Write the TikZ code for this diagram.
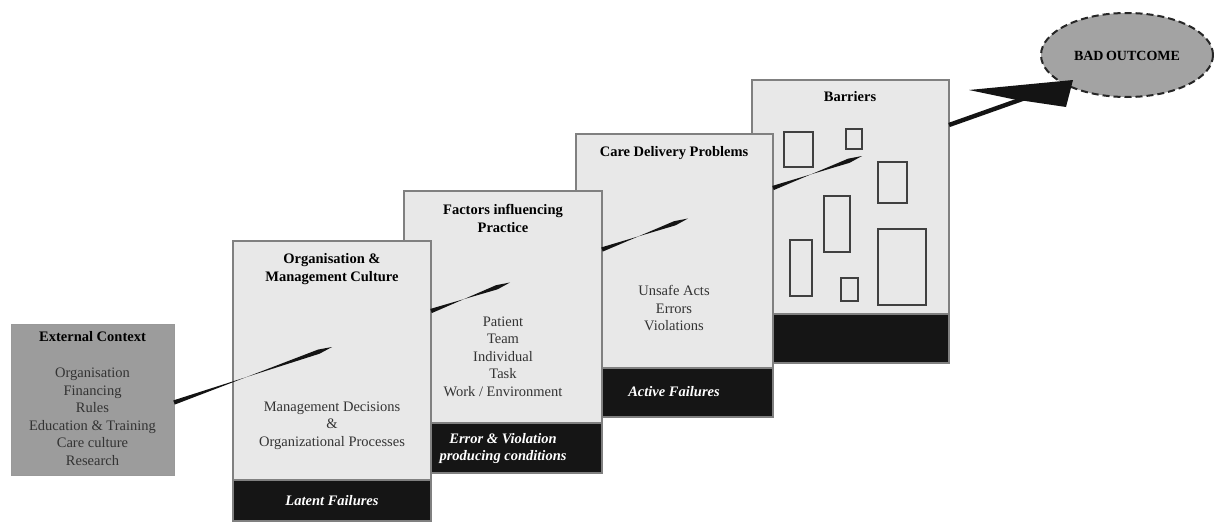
\documentclass[tikz,border=0pt]{standalone}
\usepackage{fontspec}
\setmainfont{Liberation Serif}
\usetikzlibrary{calc,shapes.geometric}
\definecolor{boxgray}{HTML}{E8E8E8}
\definecolor{ctxgray}{HTML}{9C9C9C}
\definecolor{bandblack}{HTML}{151515}
\definecolor{edgegray}{HTML}{808080}
\definecolor{ellgray}{HTML}{A3A3A3}
\definecolor{bodytext}{HTML}{333333}
\begin{document}
\begin{tikzpicture}[x=1pt,y=-1pt,
  txt/.style={font=\fontsize{14.5}{17.5}\selectfont, align=center, inner sep=0pt},
  ttl/.style={txt, font=\fontsize{14.5}{18}\selectfont\bfseries, text=black},
  body/.style={txt, text=bodytext},
  bandtxt/.style={txt, font=\fontsize{14.5}{17.5}\selectfont\bfseries\itshape, text=white},
  panel/.style={draw=edgegray, line width=1.2pt, fill=boxgray, anchor=north west, inner sep=0pt, outer sep=0pt},
  band/.style={draw=edgegray, line width=1.2pt, fill=bandblack, anchor=north west, inner sep=0pt, outer sep=0pt},
  ctxbox/.style={draw=black!40, line width=1pt, fill=ctxgray, anchor=north west, inner sep=0pt, outer sep=0pt},
  hole/.style={draw=black!75, line width=1.8pt, anchor=north west, inner sep=0pt, outer sep=0pt},
  wedge/.style={fill=black!92}
]
\useasboundingbox (0,0) rectangle (1214,522);
\fill[white] (0,0) rectangle (1214,522);

% ---- Barriers panel ----
\node[panel, minimum width=197pt, minimum height=234pt] (p4) at (752,80) {};
\node[band, minimum width=197pt, minimum height=49pt] (f4) at (752,314) {};
\node[ttl] (t4) at (850,97) {Barriers};
\node[hole, minimum width=29pt, minimum height=35pt] (h1) at (784,132) {};
\node[hole, minimum width=16pt, minimum height=20pt] (h2) at (846,129) {};
\node[hole, minimum width=29pt, minimum height=41pt] (h3) at (878,162) {};
\node[hole, minimum width=26pt, minimum height=56pt] (h4) at (824,196) {};
\node[hole, minimum width=22pt, minimum height=56pt] (h5) at (790,240) {};
\node[hole, minimum width=17pt, minimum height=23pt] (h6) at (841,278) {};
\node[hole, minimum width=48pt, minimum height=76pt] (h7) at (878,229) {};

% ---- Care delivery panel ----
\node[panel, minimum width=197pt, minimum height=234pt] (p3) at (576,134) {};
\node[band, minimum width=197pt, minimum height=49pt] (f3) at (576,368) {};
\node[ttl] (t3) at (674,153) {Care Delivery Problems};
\node[body] (c3) at (674,308) {Unsafe Acts\\Errors\\Violations};
\node[bandtxt] (l3) at (674,392) {Active Failures};

% ---- Factors panel ----
\node[panel, minimum width=198pt, minimum height=232pt] (p2) at (404,191) {};
\node[band, minimum width=198pt, minimum height=50pt] (f2) at (404,423) {};
\node[ttl] (t2) at (503,218.5) {Factors influencing\\Practice};
\node[body] (c2) at (503,356.5) {Patient\\Team\\Individual\\Task\\Work / Environment};
\node[bandtxt] (l2) at (503,448.5) {Error \& Violation\\producing conditions};

% ---- Organisation panel ----
\node[panel, minimum width=198pt, minimum height=239pt] (p1) at (233,241) {};
\node[band, minimum width=198pt, minimum height=41pt] (f1) at (233,480) {};
\node[ttl] (t1) at (332,269) {Organisation \&\\Management Culture};
\node[body] (c1) at (332,425.5) {Management Decisions\\\&\\Organizational Processes};
\node[bandtxt] (l1) at (332,501) {Latent Failures};

% ---- External context ----
\node[ctxbox, minimum width=163pt, minimum height=151pt] (ctx) at (11,324) {};
\node[ttl] (t0) at (92.5,337) {External Context};
\node[body] (c0) at (92.5,417) {Organisation\\Financing\\Rules\\Education \& Training\\Care culture\\Research};

% ---- Bad outcome ----
\node[ellipse, fill=ellgray, draw=black!85, line width=2pt, dash pattern=on 7pt off 4pt,
      minimum width=172pt, minimum height=84pt, inner sep=0pt] (bad) at (1127,55) {};
\node[ttl, font=\fontsize{14}{17}\selectfont\bfseries] (tb) at (1127,56) {BAD\hspace{-1pt} OUTCOME};

% ---- trajectory (wedges) ----
\coordinate (a1) at ($(ctx.east)+(0,3)$);
\coordinate (b1) at (332,347);
\coordinate (a2) at (431,311);
\coordinate (b2) at (510,282.5);
\coordinate (a3) at (602,249.5);
\coordinate (b3) at (688,218.5);
\coordinate (a4) at (773,188);
\coordinate (b4) at (862,156);
\coordinate (a5) at (949,125);
\coordinate (n5) at (1028,97);
\coordinate (tip) at (1073,80);
\coordinate (w1) at (969,90);
\coordinate (w2) at (1066,107);
\coordinate (nt) at (1012,99);

\foreach \s/\e in {a1/b1,a2/b2,a3/b3,a4/b4}{
  \coordinate (m) at ($(\e)!14pt!(\s)$);
  \fill[wedge] ($(\s)!2.2pt!90:(\e)$) -- ($(\s)!2.2pt!-90:(\e)$) -- ($(m)!2.2pt!90:(\e)$) -- (\e) -- ($(m)!2.2pt!-90:(\e)$) -- cycle;
}
\draw[line width=4.4pt, black!92] (a5) -- (n5);
\fill[wedge] (w1) -- (tip) -- (w2) -- (nt) -- cycle;
\end{tikzpicture}
\end{document}
